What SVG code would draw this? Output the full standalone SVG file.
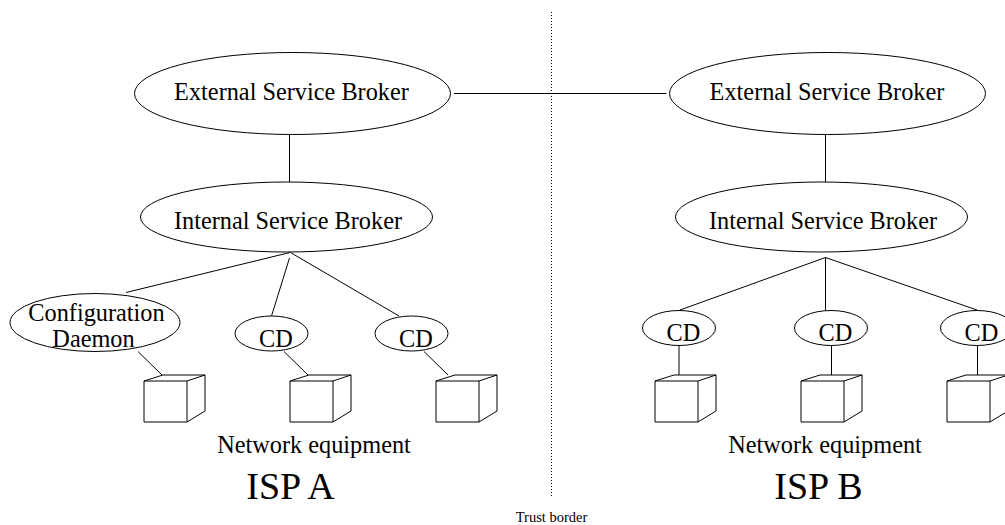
<svg xmlns="http://www.w3.org/2000/svg" width="1005" height="525" viewBox="0 0 1005 525">
<style>
.n{fill:#fff;stroke:#000;stroke-width:1}
.c{fill:none;stroke:#000;stroke-width:1}
.d{fill:none;stroke:#000;stroke-width:1;stroke-dasharray:1 2}
text{font-family:"Liberation Serif","Times New Roman",serif;fill:#000;text-anchor:middle;font-size:24.3px}
.big{font-size:38px}
.sm{font-size:14.5px}
</style>
<defs>
<g id="box"><path class="n" d="M0.5 0.5H43.5V41.5H0.5Z"/><path class="c" d="M0.5 0.5L19.5-5.5H61.5L43.5 0.5M61.5-5.5V30.5L43.5 41.5"/></g>
</defs>
<g id="connectors">
<path class="d" d="M551.5 12V498"/>
<path class="c" d="M454 93.500H666.500"/>
<path class="c" d="M289.500 134V182"/>
<path class="c" d="M825.500 134V182"/>
<path class="c" d="M290 252.500L126 292.500M289.500 258L271.500 316M290.500 252.500L399 316"/>
<path class="c" d="M825.500 257.500L680 310M825.500 257.500V310M825.500 257.500L977 310"/>
<path class="c" d="M138 351.500L162 375M284 351.500L308 375M424 351.500L448 375"/>
<path class="c" d="M679 346V375M831.500 346V375M977.500 346V375"/>
</g>
<g id="ext-a"><ellipse class="n" cx="292.500" cy="93.500" rx="158" ry="41"/><text x="291.500" y="100">External Service Broker</text></g>
<g id="int-a"><ellipse class="n" cx="286.500" cy="217" rx="146" ry="35"/><text x="288" y="229">Internal Service Broker</text></g>
<g id="ext-b"><ellipse class="n" cx="827.500" cy="93.500" rx="158" ry="41"/><text x="827" y="100">External Service Broker</text></g>
<g id="int-b"><ellipse class="n" cx="821.500" cy="217" rx="146" ry="35"/><text x="823" y="229">Internal Service Broker</text></g>
<g id="cd-config"><ellipse class="n" cx="95" cy="322.500" rx="85" ry="29"/><text x="96.500" y="321">Configuration</text><text x="93.500" y="347">Daemon</text></g>
<g id="cd-a2"><ellipse class="n" cx="271.500" cy="333.500" rx="36.500" ry="17.500"/><text x="276" y="347">CD</text></g>
<g id="cd-a3"><ellipse class="n" cx="411.500" cy="333.500" rx="36.500" ry="17.500"/><text x="416" y="347">CD</text></g>
<g id="cd-b1"><ellipse class="n" cx="679" cy="328" rx="36.500" ry="17.500"/><text x="683.500" y="341">CD</text></g>
<g id="cd-b2"><ellipse class="n" cx="831" cy="328" rx="36.500" ry="17.500"/><text x="835.500" y="341">CD</text></g>
<g id="cd-b3"><ellipse class="n" cx="977" cy="328" rx="36.500" ry="17.500"/><text x="981.500" y="341">CD</text></g>
<g id="box-a1"><use href="#box" x="143.500" y="380.500"/></g>
<g id="box-a2"><use href="#box" x="289.500" y="380.500"/></g>
<g id="box-a3"><use href="#box" x="435.500" y="380.500"/></g>
<g id="box-b1"><use href="#box" x="654.500" y="380.500"/></g>
<g id="box-b2"><use href="#box" x="800.500" y="380.500"/></g>
<g id="box-b3"><use href="#box" x="946.500" y="380.500"/></g>
<text x="314" y="453">Network equipment</text>
<text x="825" y="453">Network equipment</text>
<text class="big" x="290.500" y="499">ISP A</text>
<text class="big" x="818.500" y="499">ISP B</text>
<text class="sm" x="551.500" y="521.500">Trust border</text>
</svg>
